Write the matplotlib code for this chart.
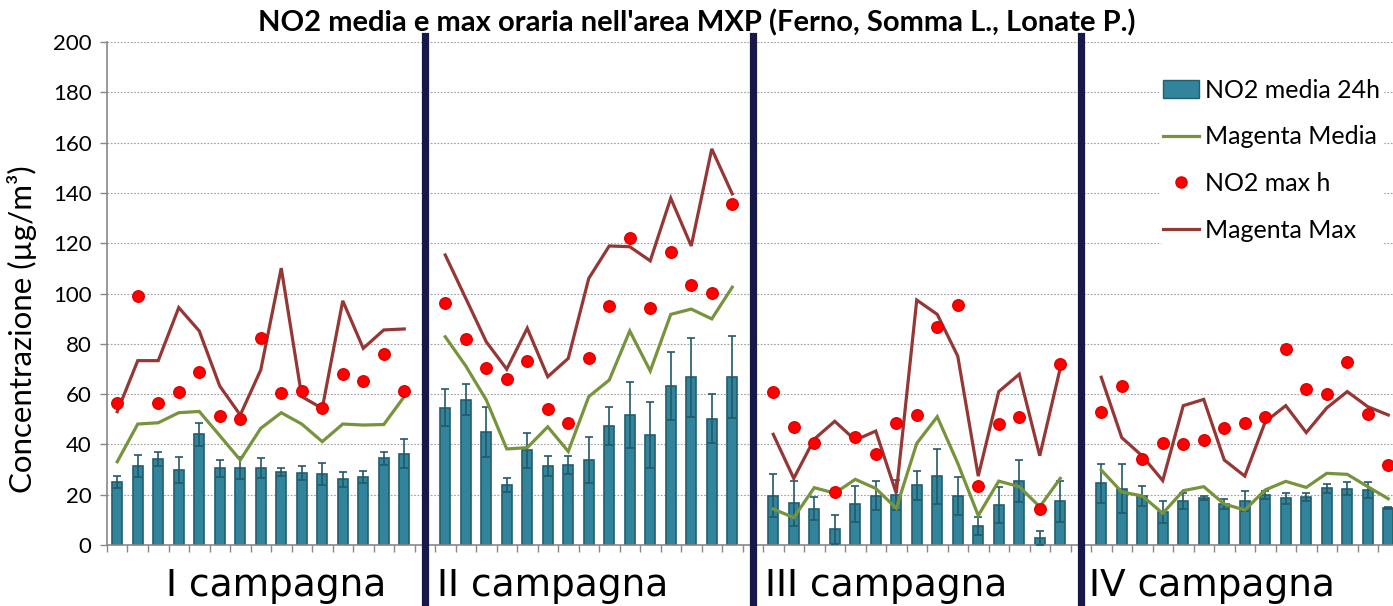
import numpy as np
import matplotlib
matplotlib.use("Agg")
import matplotlib.pyplot as plt
from matplotlib.lines import Line2D
from matplotlib.patches import Patch

plt.rcParams['font.family'] = ['Lato', 'DejaVu Sans']

campaigns = ["I campagna", "II campagna", "III campagna", "IV campagna"]

no2_media = [
    [25.2, 31.5, 34.2, 29.8, 44.0, 30.5, 30.7, 30.7, 29.1, 28.7, 28.2, 26.1, 26.9, 34.5, 36.3],
    [54.6, 57.8, 44.9, 23.9, 37.6, 31.4, 31.7, 33.7, 47.3, 51.7, 43.7, 63.2, 66.7, 50.2, 66.8],
    [19.6, 16.6, 14.4, 6.2, 16.3, 19.6, 19.9, 23.7, 27.3, 19.4, 7.7, 16.0, 25.4, 2.8, 17.4],
    [24.5, 22.4, 19.5, 13.0, 17.4, 18.7, 16.3, 17.6, 19.8, 18.6, 19.2, 22.5, 22.3, 21.7, 14.8],
]
no2_err = [
    [2.4, 4.3, 2.9, 5.2, 4.6, 3.3, 4.4, 4.0, 1.6, 2.8, 4.5, 3.0, 2.4, 2.6, 5.8],
    [7.3, 6.3, 10.1, 2.9, 6.9, 4.1, 3.6, 9.1, 7.6, 13.0, 13.2, 13.5, 15.7, 9.8, 16.4],
    [8.6, 9.0, 4.6, 5.7, 7.0, 5.7, 5.9, 5.8, 10.8, 7.5, 3.6, 7.2, 8.4, 2.9, 8.2],
    [7.7, 9.8, 4.0, 4.3, 3.2, 0.7, 2.1, 4.0, 1.5, 2.2, 1.6, 1.9, 2.6, 3.2, 0.4],
]
magenta_media = [
    [33.1, 48.1, 48.6, 52.6, 53.1, 43.5, 33.8, 46.4, 52.6, 48.1, 41.1, 48.1, 47.7, 47.9, 59.0],
    [82.8, 71.2, 57.7, 38.2, 38.7, 47.0, 37.2, 59.0, 65.6, 85.1, 69.2, 91.7, 93.8, 89.9, 102.5],
    [14.3, 10.9, 22.8, 20.6, 26.1, 22.5, 14.6, 40.4, 51.0, 32.5, 11.7, 25.4, 23.2, 15.2, 26.5],
    [29.8, 21.1, 19.5, 12.6, 21.6, 23.2, 16.3, 13.9, 21.9, 25.3, 22.9, 28.5, 28.1, 23.2, 18.4],
]
no2_max = [
    [56.6, 99.1, 56.3, 61.0, 68.7, 51.4, 50.0, 82.4, 60.3, 61.1, 54.5, 67.9, 65.2, 75.9, 61.2],
    [96.4, 82.0, 70.2, 65.9, 73.3, 54.2, 48.4, 74.4, 95.2, 121.9, 94.1, 116.4, 103.4, 100.3, 135.6],
    [60.7, 47.0, 40.7, 21.0, 42.8, 36.3, 48.5, 51.8, 86.6, 95.4, 23.5, 48.0, 50.9, 14.2, 71.8],
    [53.0, 63.2, 34.2, 40.7, 40.0, 41.7, 46.4, 48.4, 51.0, 78.1, 62.0, 60.2, 72.6, 52.0, 31.8],
]
magenta_max = [
    [53.0, 73.3, 73.3, 94.4, 85.1, 63.2, 51.7, 69.6, 110.1, 59.0, 54.3, 97.1, 78.2, 85.5, 85.9],
    [115.3, 98.1, 80.8, 69.9, 86.2, 66.9, 74.2, 106.0, 118.9, 118.6, 113.0, 137.9, 118.9, 157.5, 139.6],
    [44.0, 26.5, 42.1, 49.2, 41.7, 45.3, 20.6, 97.4, 91.7, 75.1, 27.4, 61.0, 67.9, 35.5, 70.3],
    [66.7, 42.7, 35.4, 25.6, 55.4, 57.9, 33.8, 27.4, 49.0, 55.4, 44.7, 54.5, 61.0, 55.0, 51.7],
]

W, H = 1393, 606
fig = plt.figure(figsize=(W / 100, H / 100), dpi=100)
left_px, top_px, bot_px = 107, 42, 545
slot = 20.5
nslots = 63
ax = fig.add_axes([left_px / W, 1 - bot_px / H, nslots * slot / W, (bot_px - top_px) / H])

bar_c = '#31849B'
bar_edge = '#235E6E'
green = '#77933C'
dred = '#953735'

n_per = 15
for c in range(4):
    x = np.arange(n_per) + c * (n_per + 1)
    ax.bar(x, no2_media[c], width=0.48, color=bar_c, edgecolor=bar_edge, linewidth=1.2, zorder=2)
    ax.errorbar(x, no2_media[c], yerr=no2_err[c], fmt='none', ecolor='#215968',
                elinewidth=1.2, capsize=3.2, capthick=1.2, zorder=3)
    ax.plot(x, magenta_media[c], color=green, lw=2.3, zorder=4, solid_joinstyle='miter')
    ax.plot(x, magenta_max[c], color=dred, lw=2.3, zorder=4, solid_joinstyle='miter')
    ax.plot(x, no2_max[c], 'o', color='#FF0000', markeredgecolor='#E00000', markersize=8.3, zorder=5)

# campaign dividers
for c in range(1, 4):
    xd = c * (n_per + 1) - 1
    ax.axvline(xd, ymin=-0.125, ymax=1.012, color='#17174A', lw=5.2, clip_on=False, zorder=6)

ax.set_xlim(-0.5, nslots - 0.5)
ax.set_ylim(0, 200)
ax.set_yticks(np.arange(0, 201, 20))
ax.set_xticks(np.arange(-0.5, nslots, 1.0))
ax.set_xticklabels([])
ax.tick_params(axis='x', length=5, color='#888888', width=1, direction='out')
ax.tick_params(axis='y', length=5, color='#888888', width=1, labelsize=16, pad=6)
ax.yaxis.grid(True, linestyle=(0, (1.5, 1.5)), color='#A0A0A0', lw=0.8)
ax.set_axisbelow(True)
for s in ['top', 'right']:
    ax.spines[s].set_visible(False)
for s in ['left', 'bottom']:
    ax.spines[s].set_color('#888888')
    ax.spines[s].set_linewidth(1.2)

ax.set_ylabel('Concentrazione (µg/m³)', fontsize=22.5)
ax.yaxis.set_label_coords(-(107 - 37) / (nslots * slot), 0.43)

fig.text(0.5, 1 - 23 / H, "NO2 media e max oraria nell'area MXP (Ferno, Somma L., Lonate P.)",
         ha='center', va='center', fontsize=21, fontweight='bold')

label_x = [2.4, 15.6, 31.6, 47.4]
for c in range(4):
    ax.text(label_x[c], -16.5, campaigns[c], ha='left', va='center', fontsize=27,
            family='DejaVu Sans', transform=ax.transData, clip_on=False)

handles = [
    Patch(facecolor=bar_c, edgecolor=bar_edge, label='NO2 media 24h'),
    Line2D([0], [0], color=green, lw=2.3, label='Magenta Media'),
    Line2D([0], [0], marker='o', color='none', markerfacecolor='#FF0000', markeredgecolor='#E00000',
           markersize=8, label='NO2 max h'),
    Line2D([0], [0], color=dred, lw=2.3, label='Magenta Max'),
]
leg = fig.legend(handles=handles, loc='upper left', bbox_to_anchor=(1160 / W, 1 - 76 / H),
                 fontsize=18, frameon=True, facecolor='white', edgecolor='white',
                 framealpha=1, labelspacing=0.95, handlelength=1.45, handletextpad=0.25,
                 borderpad=0.1, borderaxespad=0)
leg.set_zorder(10)

fig.savefig('out.png', dpi=100)
